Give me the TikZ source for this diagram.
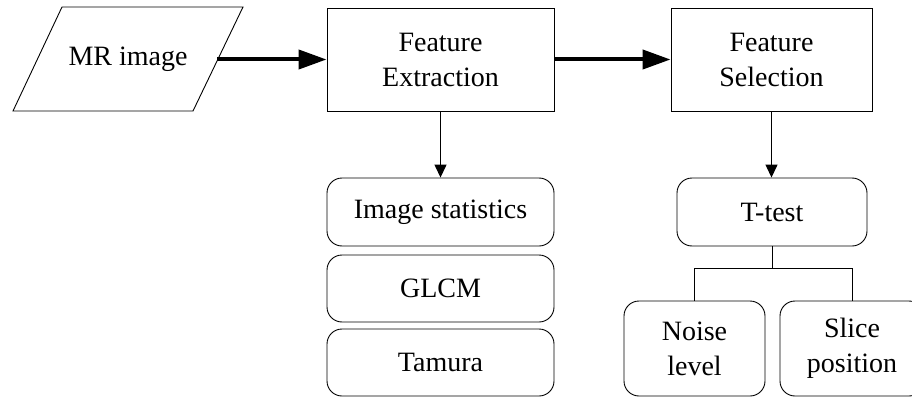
\documentclass[tikz,border=0pt]{standalone}
\usepackage{fontspec}
\setmainfont{Liberation Serif}
\usetikzlibrary{arrows.meta}

\begin{document}
\begin{tikzpicture}[x=1pt, y=-1pt,
    every node/.style={font=\fontsize{28}{35}\selectfont, align=center, inner sep=0pt},
    stepbox/.style={draw, line width=0.9pt, minimum width=227pt, minimum height=103pt},
    roundbox/.style={draw, line width=0.9pt, rounded corners=15pt},
    bigarrow/.style={line width=4pt, -{Triangle[length=28pt,width=19pt]}},
    downarrow/.style={line width=1.3pt, -{Triangle[length=13pt,width=12pt]}},
    branch/.style={line width=0.9pt}]
    %%%%% START %%%%%
    \useasboundingbox (0,0) rectangle (912,401);

    % input parallelogram
    \draw[line width=0.9pt] (13,111) -- (62,7) -- (243,7) -- (193,111) -- cycle;
    \node (mr) at (128,59) {MR image};
    \coordinate (mrout) at (217,59.5);

    \node[stepbox] (fe) at (440.5,59.5) {Feature\\Extraction};
    \node[stepbox, minimum width=201pt] (fs) at (771.5,59.5) {Feature\\Selection};

    \node[roundbox, minimum width=227pt, minimum height=68pt] (stats) at (440.5,212) {Image statistics};
    \node[roundbox, minimum width=227pt, minimum height=67pt] (glcm) at (440.5,288.5) {GLCM};
    \node[roundbox, minimum width=227pt, minimum height=67pt] (tamura) at (440.5,362.5) {Tamura};

    \node[roundbox, minimum width=190pt, minimum height=68pt] (ttest) at (772,212) {T-test};
    \node[roundbox, minimum width=141pt, minimum height=95pt] (noise) at (694.5,348.5) {Noise\\level};
    \node[roundbox, minimum width=144pt, minimum height=95pt] (slice) at (852,348.5) {Slice\\position};

    \draw[bigarrow] (mrout) -- (fe);
    \draw[bigarrow] (fe) -- (fs);
    \draw[downarrow] (fe) -- (stats);
    \draw[downarrow] (fs.south) -- (fs.south |- ttest.north);

    \coordinate (split) at (772,268);
    \draw[branch] (ttest) -- (split);
    \draw[branch] (split) -| (noise);
    \draw[branch] (split) -| (slice);
    %%%%% END %%%%%
\end{tikzpicture}
\end{document}
